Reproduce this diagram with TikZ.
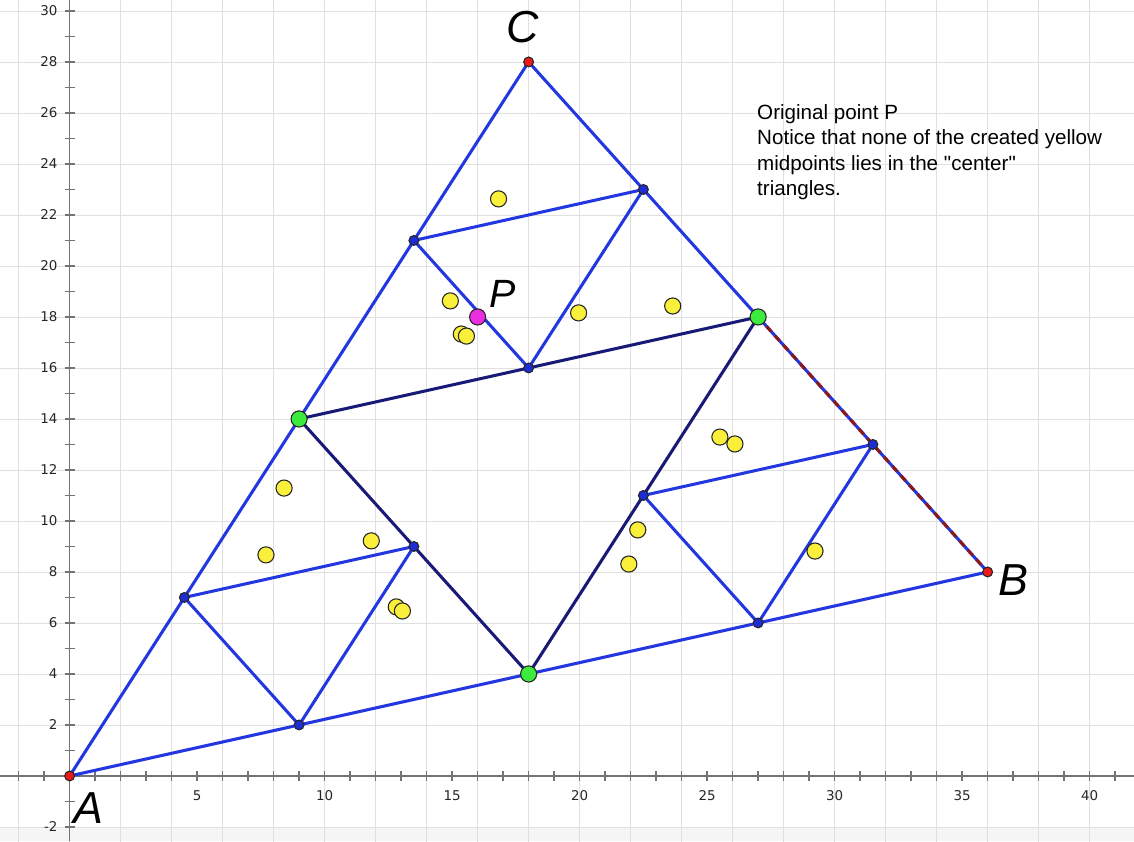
\documentclass[tikz,border=0pt]{standalone}
\usepackage{fontspec}
\setmainfont{Liberation Sans}[Ligatures=TeXOff]
\newfontfamily\tickfont{DejaVu Sans}
\definecolor{edgeblue}{RGB}{35,55,225}
\definecolor{navy}{RGB}{25,25,120}
\definecolor{dashred}{RGB}{140,25,25}
\definecolor{ptred}{RGB}{235,25,25}
\definecolor{ptgreen}{RGB}{60,235,60}
\definecolor{ptblue}{RGB}{30,45,210}
\definecolor{ptyellow}{RGB}{250,240,60}
\definecolor{ptmag}{RGB}{235,45,225}
\begin{document}
\begin{tikzpicture}[x=0.5cm,y=0.5cm,
  gridline/.style={draw=black!12, line width=0.5pt},
  axisline/.style={draw=black!55, line width=0.8pt},
  ticklab/.style={font=\tickfont\fontsize{7.5}{9}\selectfont, text=black!85, inner sep=0pt},
  blueline/.style={draw=edgeblue, line width=1.7pt},
  navyline/.style={draw=navy, line width=1.7pt},
  dashline/.style={draw=dashred, line width=1.7pt, dash pattern=on 4pt off 3pt},
  dot/.style={circle, draw=black!85, line width=0.6pt, inner sep=0pt},
  vtx/.style={dot, fill=ptred, minimum size=5.5pt},
  grn/.style={dot, fill=ptgreen, minimum size=9pt},
  sml/.style={dot, fill=ptblue, minimum size=5.5pt},
  yel/.style={dot, fill=ptyellow, minimum size=9pt},
  mag/.style={dot, fill=ptmag, minimum size=9pt},
  ptlabel/.style={font=\itshape\fontsize{25}{30}\selectfont, inner sep=0pt},
  note/.style={font=\fontsize{11.5}{14}\selectfont, anchor=base west, inner sep=0pt}
]
\useasboundingbox (-2.73,-2.55) rectangle (41.74,30.43);
% background band and grid
\fill[black!4] (-2.73,-2.55) rectangle (41.74,-2);
\begin{scope}
\clip (-2.73,-2.55) rectangle (41.74,30.43);
\draw[gridline] (-4,-4) grid[step=2] (44,32);
\end{scope}
% axes
\draw[axisline] (-2.73,0) -- (41.74,0);
\draw[axisline] (0,-2.55) -- (0,30.43);
\foreach \i in {-2,...,41} \draw[axisline] (\i,-0.2) -- (\i,0.2);
\foreach \j in {-2,...,30} \draw[axisline] (-0.2,\j) -- (0.2,\j);
\foreach \i in {5,10,...,40} \node[ticklab] (xl\i) at (\i,-0.78) {\i};
\foreach \j in {2,4,...,30} \node[ticklab, anchor=east] (yl\j) at (-0.46,\j) {\j};
\node[ticklab, anchor=east] (ylm2) at (-0.46,-2) {-2};
% points
\coordinate (A) at (0,0);
\coordinate (B) at (36,8);
\coordinate (C) at (18,28);
\coordinate (M1) at (9,14);
\coordinate (M2) at (27,18);
\coordinate (M3) at (18,4);
\coordinate (a1) at (4.5,7);
\coordinate (a2) at (13.5,9);
\coordinate (a3) at (9,2);
\coordinate (c1) at (13.5,21);
\coordinate (c2) at (22.5,23);
\coordinate (c3) at (18,16);
\coordinate (b1) at (22.5,11);
\coordinate (b2) at (31.5,13);
\coordinate (b3) at (27,6);
% outer triangle
\draw[blueline] (A) -- (C) -- (M2);
\draw[blueline] (A) -- (B);
\draw[blueline] (M2) -- (B);
\draw[dashline] (M2) -- (B);
% middle triangle
\draw[navyline] (M1) -- (M2) -- (M3) -- cycle;
% inner lines
\draw[blueline] (a1) -- (a2) -- (a3) -- cycle;
\draw[blueline] (c1) -- (c2) -- (c3) -- cycle;
\draw[blueline] (b1) -- (b2) -- (b3) -- cycle;
% yellow points
\foreach \x/\y [count=\k] in {16.82/22.63, 8.41/11.29, 7.70/8.67, 11.83/9.22, 12.81/6.63, 13.05/6.47, 14.93/18.63, 15.36/17.33, 15.56/17.25, 19.96/18.16, 23.65/18.43, 25.50/13.29, 26.09/13.02, 22.28/9.65, 21.93/8.31, 29.23/8.82}
  \node[yel] (yp\k) at (\x,\y) {};
% dots
\foreach \p in {a1,a2,a3,c1,c2,c3,b1,b2,b3} \node[sml] (d\p) at (\p) {};
\foreach \p in {M1,M2,M3} \node[grn] (d\p) at (\p) {};
\foreach \p in {A,B,C} \node[vtx] (d\p) at (\p) {};
\node[mag] (P) at (16,18) {};
% labels
\node[ptlabel] (lA) at (0.72,-1.25) {A};
\node[ptlabel] (lB) at (37.0,7.69) {B};
\node[ptlabel] (lC) at (17.78,29.37) {C};
\node[ptlabel, font=\itshape\fontsize{22}{26}\selectfont] (lP) at (17.0,18.9) {P};
% note
\node[note] (n1) at (26.95,25.76) {Original point P};
\node[note] (n2) at (26.95,24.76) {Notice that none of the created yellow};
\node[note] (n3) at (26.95,23.76) {midpoints lies in the "center"};
\node[note] (n4) at (26.95,22.76) {triangles.};
\end{tikzpicture}
\end{document}
